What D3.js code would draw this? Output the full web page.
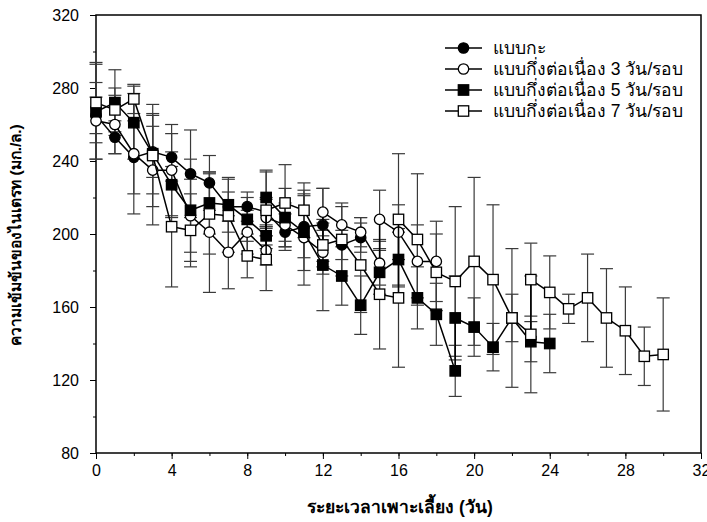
<!DOCTYPE html>
<html lang="th">
<head>
<meta charset="utf-8">
<title>Nitrate concentration</title>
<script src="https://cdn.jsdelivr.net/npm/d3@7"></script>
<style>
  body { margin: 0; background: #fff; }
  svg { display: block; font-family: "Liberation Sans", Arial, sans-serif; }
</style>
</head>
<body>
<svg></svg>
<script>
// series names (legend order)
var seriesNames = ["แบบกะ", "แบบกึ่งต่อเนื่อง 3 วัน/รอบ", "แบบกึ่งต่อเนื่อง 5 วัน/รอบ", "แบบกึ่งต่อเนื่อง 7 วัน/รอบ"];

// batch
var batchDays = [0,1,2,3,4,5,6,7,8,9,10,11,12,13,14];
var batchVals = [265,253,242,245,242,233,228,215,215,212,201,204,205,194,198];
var batchErr  = [10,9,20,14,13,24,15,8,8,8,10,17,20,8,8];

// semi-continuous, 3 days per cycle
var semi3Days = [0,1,2,3,4,5,6,7,8,9,9,10,11,12,12,13,14,15,15,16,17,18];
var semi3Vals = [262,260,244,235,235,210,201,190,201,191,209,205,198,190,212,205,201,184,208,201,185,185];
var semi3Err  = [21,16,33,30,25,20,33,20,12,8,10,12,26,12,13,10,8,12,16,15,20,22];

// semi-continuous, 5 days per cycle
var semi5Days = [0,1,2,3,4,5,6,7,8,9,9,10,11,12,13,14,15,16,17,18,19,19,20,21,22,23,24];
var semi5Vals = [267,272,261,244,227,213,217,216,208,199,220,209,201,183,177,161,179,186,165,156,125,154,149,138,154,141,140];
var semi5Err  = [26,18,20,22,18,28,17,15,12,5,15,16,21,25,16,16,12,15,17,17,14,23,16,13,13,11,16];

// semi-continuous, 7 days per cycle
var semi7Days = [0,1,2,3,4,5,6,7,8,9,9,10,11,12,13,14,15,16,16,17,18,19,20,21,22,23,23,24,25,26,27,28,29,30];
var semi7Vals = [272,268,274,243,204,202,211,210,188,186,213,217,213,194,197,183,167,165,208,197,179,174,185,175,154,145,175,168,159,165,154,147,133,134];
var semi7Err  = [22,12,8,28,33,20,22,20,12,17,21,21,15,12,20,26,30,38,36,36,21,41,46,41,38,32,20,20,8,24,27,24,16,31];

var xTicks = [0,4,8,12,16,20,24,28,32];
var yTicks = [80,120,160,200,240,280,320];

var width = 707, height = 522;
var mLeft = 96, mRight = 701, mTop = 15, mBottom = 453;

var svg = d3.select("svg").attr("width", width).attr("height", height);

var x = d3.scaleLinear().domain([0, 32]).range([mLeft, mRight]);
var y = d3.scaleLinear().domain([80, 320]).range([mBottom, mTop]);

function rows(days, vals, errs) {
  return days.map(function(d, i) { return {day: d, val: vals[i], err: errs[i]}; });
}

var series = [
  {name: seriesNames[0], shape: "circle", fill: "#000", data: rows(batchDays, batchVals, batchErr)},
  {name: seriesNames[1], shape: "circle", fill: "#fff", data: rows(semi3Days, semi3Vals, semi3Err)},
  {name: seriesNames[2], shape: "square", fill: "#000", data: rows(semi5Days, semi5Vals, semi5Err)},
  {name: seriesNames[3], shape: "square", fill: "#fff", data: rows(semi7Days, semi7Vals, semi7Err)}
];

// minor ticks first, then major axes
svg.append("g")
  .attr("transform", "translate(0," + mBottom + ")")
  .call(d3.axisBottom(x).tickValues(d3.range(0, 33, 2)).tickSize(3).tickFormat(""));
svg.append("g")
  .attr("transform", "translate(" + mLeft + ",0)")
  .call(d3.axisLeft(y).tickValues(d3.range(80, 321, 20)).tickSize(3).tickFormat(""));

var xAxis = svg.append("g")
  .attr("transform", "translate(0," + mBottom + ")")
  .call(d3.axisBottom(x).tickValues(xTicks).tickSize(6).tickPadding(6));
var yAxis = svg.append("g")
  .attr("transform", "translate(" + mLeft + ",0)")
  .call(d3.axisLeft(y).tickValues(yTicks).tickSize(6).tickPadding(11));

svg.selectAll(".domain").remove();
svg.selectAll(".tick line").attr("stroke", "#000");
xAxis.selectAll("text").attr("font-size", 16).attr("fill", "#000");
yAxis.selectAll("text").attr("font-size", 16).attr("fill", "#000");

// frame
svg.append("rect")
  .attr("x", mLeft).attr("y", mTop)
  .attr("width", mRight - mLeft).attr("height", mBottom - mTop)
  .attr("fill", "none").attr("stroke", "#000").attr("stroke-width", 1.5);

// error bars
var cap = 6.5;
series.forEach(function(s) {
  var g = svg.append("g").attr("stroke", "#3a3a3a").attr("stroke-width", 1.2);
  s.data.forEach(function(d) {
    var cx = x(d.day), y1 = y(d.val + d.err), y2 = y(d.val - d.err);
    g.append("line").attr("x1", cx).attr("x2", cx).attr("y1", y1).attr("y2", y2);
    g.append("line").attr("x1", cx - cap).attr("x2", cx + cap).attr("y1", y1).attr("y2", y1);
    g.append("line").attr("x1", cx - cap).attr("x2", cx + cap).attr("y1", y2).attr("y2", y2);
  });
});

var line = d3.line()
  .x(function(d) { return x(d.day); })
  .y(function(d) { return y(d.val); });

function drawMarker(g, shape, fill, cx, cy) {
  if (shape === "circle") {
    g.append("circle").attr("cx", cx).attr("cy", cy).attr("r", 5.2)
      .attr("fill", fill).attr("stroke", "#000").attr("stroke-width", 1.3);
  } else {
    g.append("rect").attr("x", cx - 5.2).attr("y", cy - 5.2)
      .attr("width", 10.4).attr("height", 10.4)
      .attr("fill", fill).attr("stroke", "#000").attr("stroke-width", 1.3);
  }
}

series.forEach(function(s) {
  svg.append("path").datum(s.data)
    .attr("d", line)
    .attr("fill", "none").attr("stroke", "#000").attr("stroke-width", 1.5);
  var g = svg.append("g");
  s.data.forEach(function(d) { drawMarker(g, s.shape, s.fill, x(d.day), y(d.val)); });
});

// legend
var legend = svg.append("g");
series.forEach(function(s, i) {
  var ly = 48 + i * 21;
  legend.append("line").attr("x1", 445).attr("x2", 482).attr("y1", ly).attr("y2", ly)
    .attr("stroke", "#000").attr("stroke-width", 1.5);
  drawMarker(legend, s.shape, s.fill, 463.5, ly);
  legend.append("text").attr("x", 493).attr("y", ly + 6)
    .attr("font-size", 17.5).text(s.name);
});

// axis titles
svg.append("text")
  .attr("x", 400).attr("y", 513)
  .attr("text-anchor", "middle").attr("font-size", 17.5).attr("font-weight", "bold")
  .text("ระยะเวลาเพาะเลี้ยง (วัน)");

svg.append("text")
  .attr("transform", "translate(21,235) rotate(-90)")
  .attr("text-anchor", "middle").attr("font-size", 15.5).attr("font-weight", "bold")
  .text("ความเข้มข้นของไนเตรท (มก./ล.)");
</script>
</body>
</html>
